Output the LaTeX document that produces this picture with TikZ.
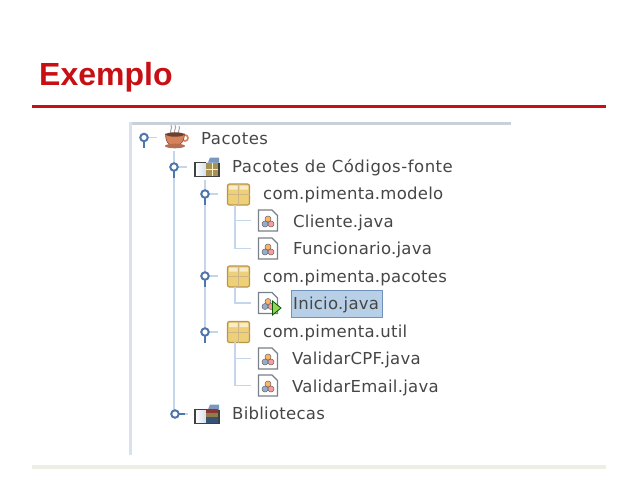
\documentclass[tikz,border=0pt]{standalone}
\usepackage{fontspec}
\setmainfont{DejaVu Sans}
\newfontfamily\titlefont{Liberation Sans}
\newfontfamily\treefont[LetterSpace=3.2]{DejaVu Sans}
\newfontfamily\filefont[LetterSpace=1.6]{DejaVu Sans}
\usetikzlibrary{arrows.meta,calc,positioning}
\definecolor{SlideRed}{RGB}{200,16,20}
\definecolor{FootBand}{RGB}{238,238,228}
\definecolor{TreeBlue}{RGB}{198,214,234}
\definecolor{KnobBlue}{RGB}{78,118,170}
\definecolor{FrameTop}{RGB}{200,208,216}
\definecolor{FrameLeft}{RGB}{216,226,238}
\definecolor{PkgGold}{RGB}{238,208,120}
\definecolor{PkgEdge}{RGB}{186,150,76}
\definecolor{FileEdge}{RGB}{120,128,136}
\definecolor{LabelGray}{RGB}{70,70,70}
\definecolor{PickBlue}{RGB}{184,207,232}
\definecolor{CupBrown}{RGB}{214,130,92}
\definecolor{ArrowGreen}{RGB}{150,210,90}
\tikzset{
  treeline/.style={TreeBlue,line width=1.5pt},
  knob/.style={circle,draw=KnobBlue,fill=white,line width=2pt,inner sep=0pt,minimum size=7.5pt},
  treelabel/.style={anchor=base west,inner sep=0pt,text=LabelGray,font=\treefont\fontsize{16.5}{18}\selectfont},
  filelabel/.style={treelabel,font=\filefont\fontsize{16.5}{18}\selectfont},
  iconbox/.style={inner sep=0pt,minimum width=#1,minimum height=20pt},
  iconbox/.default=22pt
}
\newcommand{\knobdown}[3]{
  \draw[TreeBlue,line width=1.5pt] (#2,#3) -- ++(13,0);
  \draw[KnobBlue,line width=2pt] (#2,#3) -- ++(0,10.5);
  \node[knob] (#1) at (#2,#3) {};
}
\newcommand{\pkgicon}[3]{
  \node[iconbox] (#1) at (#2,#3) {};
  \draw[PkgEdge,fill=PkgGold,rounded corners=2pt,line width=1.2pt] (#2-11,#3-10.5) rectangle (#2+11,#3+10.5);
  \draw[PkgEdge!70,line width=1pt] (#2,#3-10.5) -- (#2,#3+10.5) (#2-11,#3) -- (#2+11,#3);
  \fill[PkgGold!40!white] (#2-9.5,#3-9) rectangle (#2-1,#3-5) (#2+1,#3-9) rectangle (#2+9.5,#3-5);
}
\newcommand{\fileicon}[3]{
  \node[iconbox=20pt] (#1) at (#2,#3) {};
  \draw[FileEdge,fill=white,line width=1.3pt] (#2-9.5,#3-10.5) -- (#2+4,#3-10.5) -- (#2+9.5,#3-5) -- (#2+9.5,#3+10.5) -- (#2-9.5,#3+10.5) -- cycle;
  \filldraw[draw=black!60,fill=red!40!white,line width=.5pt] (#2+3,#3+3.5) circle (3pt);
  \filldraw[draw=black!60,fill=KnobBlue!60!white,line width=.5pt] (#2-3,#3+3.5) circle (3pt);
  \filldraw[draw=black!60,fill=orange!60!white,line width=.5pt] (#2,#3-1.5) circle (3pt);
}
\newcommand{\foldericon}[3]{
  \node[iconbox=24pt] (#1) at (#2,#3) {};
  \shade[left color=white,right color=KnobBlue!50] (#2-12,#3-5) rectangle (#2+12,#3+9);
  \fill[KnobBlue!75] (#2+1,#3-5) -- (#2+3,#3-10) -- (#2+12,#3-10) -- (#2+12,#3-5) -- cycle;
  \draw[black!75,line width=1.2pt] (#2+12,#3-5) -- (#2+12,#3+9) -- (#2-12,#3+9) -- (#2-12,#3-5) -- (#2-1,#3-5);
}
\begin{document}
\begin{tikzpicture}[x=1pt,y=-1pt]
\useasboundingbox (0,0) rectangle (638,479);
\node[anchor=base west,inner sep=0pt,text=SlideRed,font=\titlefont\bfseries\fontsize{32}{36}\selectfont] (title) at (39,85) {Exemplo};
\fill[SlideRed] (32,104.5) rectangle (606,107.5);
\fill[FootBand] (32,465) rectangle (606,468.5);
\fill[FrameTop] (130,122) rectangle (511,124.5);
\fill[FrameLeft] (129,122) rectangle (132,455);
\node[iconbox=24pt] (icup) at (174,136) {};
\foldericon{isrc}{207}{167.5}
\foldericon{ilib}{207}{414.5}
\pkgicon{pmodelo}{238.5}{194.5}
\pkgicon{ppacotes}{238.5}{276.5}
\pkgicon{putil}{238.5}{332}
\foreach \name/\y in {fcliente/220.5,ffunc/248.5,finicio/303,fcpf/358.5,femail/385.5}{\fileicon{\name}{268}{\y}}
\draw[treeline] ([yshift=-5pt]icup.south) -- (174,414);
\knobdown{kpacotes}{144}{137.5}
\knobdown{kfontes}{174}{167}
\draw[treeline] (205,180) -- (205,332);
\knobdown{kmodelo}{205}{194}
\knobdown{kpkg}{205}{276}
\knobdown{kutil}{205}{332}
\draw[KnobBlue,line width=2pt] (175,414) -- ++(10.5,0);
\draw[TreeBlue,line width=1.5pt] (185,414) -- ++(3,0);
\node[knob] (kbib) at (175,414) {};
\draw[treeline] ([xshift=-3.5pt]pmodelo.south) |- ([xshift=-7pt]fcliente.west);
\draw[treeline] ([xshift=-3.5pt]pmodelo.south) |- ([xshift=-7pt]ffunc.west);
\draw[treeline] ([xshift=-3.5pt]ppacotes.south) |- ([xshift=-7pt]finicio.west);
\draw[treeline] ([xshift=-3.5pt]putil.south) |- ([xshift=-7pt]fcpf.west);
\draw[treeline] ([xshift=-3.5pt]putil.south) |- ([xshift=-7pt]femail.west);
\draw[gray!70,line width=1pt] (171,134) .. controls (169,130) and (173,129) .. (171,125) (175,134) .. controls (173,130) and (177,129) .. (175,125) (179,134) .. controls (177,130) and (181,129) .. (179,126);
\draw[CupBrown,line width=1.7pt] (185,138) circle (3pt);
\filldraw[draw=CupBrown!60!black,fill=CupBrown,line width=.6pt] (165.5,134) -- (184.5,134) .. controls (184.5,141) and (181,144) .. (178,145.5) -- (171,145.5) .. controls (168,144) and (165.5,141) .. (165.5,134) -- cycle;
\fill[CupBrown!50!black] (175,134.5) ellipse (9pt and 2.2pt);
\fill[CupBrown!85!black] (175,146) ellipse (10pt and 2.3pt);
\fill[PkgGold!70!black] (205.5,163) rectangle (218,176);
\draw[PkgGold!40!white,line width=.6pt] (212,163) -- (212,176) (205.5,169.5) -- (218,169.5);
\fill[red!45!black!80] (206,409) rectangle (218,413);
\fill[PkgGold!60!black] (206,413) rectangle (218,417);
\fill[KnobBlue!70!black] (206,417) rectangle (218,422.5);
\filldraw[draw=green!35!black,fill=ArrowGreen,line width=.8pt] (272.5,301) -- (281,308) -- (272.5,315) -- cycle;
\filldraw[draw=KnobBlue!80,fill=PickBlue,line width=.7pt] (291.5,290.5) rectangle (382,317);
\node[treelabel] (lpacotes) at (201,144) {Pacotes};
\node[treelabel] (lfontes) at (232,172) {Pacotes de Códigos-fonte};
\node[filelabel] (lmodelo) at (263,199) {com.pimenta.modelo};
\node[filelabel] (lcliente) at (293,227) {Cliente.java};
\node[filelabel] (lfunc) at (293,254) {Funcionario.java};
\node[filelabel] (lpkg) at (263,282) {com.pimenta.pacotes};
\node[filelabel] (linicio) at (293,309) {Inicio.java};
\node[filelabel] (lutil) at (263,337) {com.pimenta.util};
\node[filelabel] (lcpf) at (292,364) {ValidarCPF.java};
\node[filelabel] (lemail) at (292,392) {ValidarEmail.java};
\node[filelabel] (lbib) at (232,419) {Bibliotecas};
\end{tikzpicture}
\end{document}
